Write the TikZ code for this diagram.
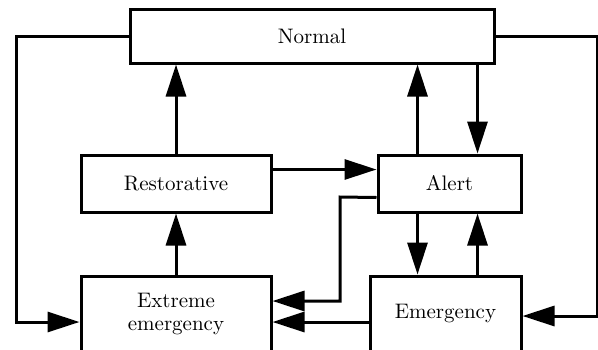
\documentclass[tikz,border=0pt]{standalone}
\usepackage{amsmath,amssymb}
\usepackage{tikz}
\usetikzlibrary{arrows.meta,positioning,calc}
\tikzstyle{opstate} = [rectangle, draw, line width=1.5pt, text centered, align=center, inner sep=2pt, font=\fontsize{10.5}{11.5}\selectfont]
\tikzstyle{corner} = [coordinate]

\begin{document}
\begin{tikzpicture}[x=0.5pt, y=-0.5pt, line width=1.5pt, >={Triangle[length=16pt, width=10pt]}]
    \useasboundingbox (0,0) rectangle (598,349);
    \clip (0,0) rectangle (598,349);
    \node[opstate, minimum width=182pt, minimum height=27pt] (normal) at (312,36) {Normal};
    \node[opstate, minimum width=95pt, minimum height=28.5pt] (restor) at (176,183.5) {Restorative};
    \node[opstate, minimum width=71.5pt, minimum height=28.5pt] (alert) at (449.5,183.5) {Alert};
    \node[opstate, minimum width=95pt, minimum height=38pt] (xemerg) at (176,314) {Extreme\\emergency};
    \node[opstate, minimum width=75.5pt, minimum height=38pt] (emerg) at (445.5,314) {Emergency};

    \node[corner] (left) at (16,36) {};
    \node[corner] (right) at (597,36) {};
    \node[corner] (jog) at (340,197) {};

    \draw[->] (restor) -- (normal.south -| restor);
    \draw[->] ([xshift=-16pt]alert.north) -- ([xshift=-16pt]alert.north |- normal.south);
    \draw[->] ([xshift=14pt]alert.north |- normal.south) -- ([xshift=14pt]alert.north);
    \draw[->] ([yshift=7pt]restor.east) -- ([yshift=7pt]restor.east -| alert.west);
    \draw[->] ([xshift=-16pt]alert.south) -- ([xshift=-16pt]alert.south |- emerg.north);
    \draw[->] ([xshift=14pt]alert.south |- emerg.north) -- ([xshift=14pt]alert.south);
    \draw[->] (xemerg) -- (restor);
    \draw[->] ([yshift=-7pt]alert.west) -- (jog) |- ([yshift=6.5pt]xemerg.east);
    \draw[->] ([yshift=-4pt]emerg.west) -- ([yshift=-4pt]xemerg.east);
    \draw[->] (normal.west) -- (left) |- ([yshift=-4pt]xemerg.west);
    \draw[->] (normal.east) -- (right) |- ([yshift=-1pt]emerg.east);
\end{tikzpicture}
\end{document}
